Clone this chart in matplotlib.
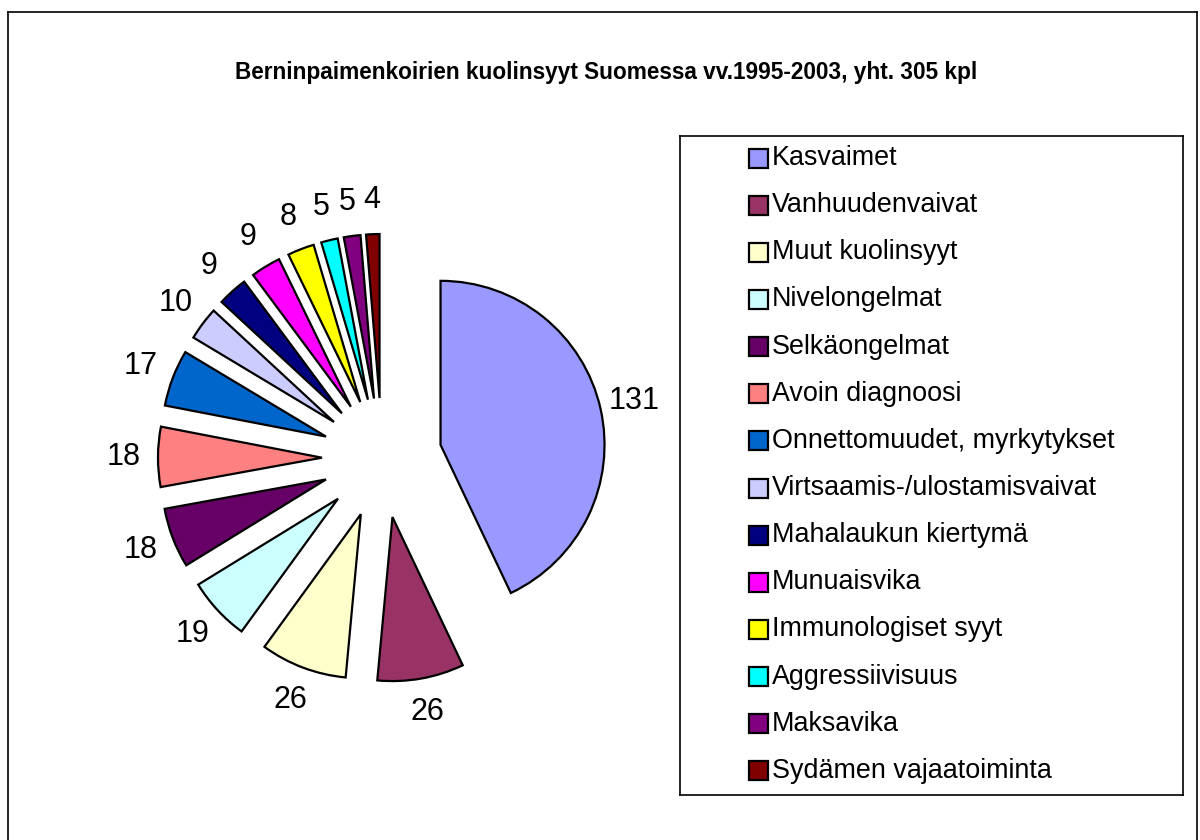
import matplotlib
matplotlib.use("Agg")
import matplotlib.pyplot as plt
from matplotlib.patches import Rectangle
from matplotlib.lines import Line2D

plt.rcParams['font.family'] = ['Liberation Sans', 'DejaVu Sans']

title = "Berninpaimenkoirien kuolinsyyt Suomessa vv.1995-2003, yht. 305 kpl"
causes = ["Kasvaimet", "Vanhuudenvaivat", "Muut kuolinsyyt", "Nivelongelmat",
          "Selkäongelmat", "Avoin diagnoosi", "Onnettomuudet, myrkytykset",
          "Virtsaamis-/ulostamisvaivat", "Mahalaukun kiertymä", "Munuaisvika",
          "Immunologiset syyt", "Aggressiivisuus", "Maksavika", "Sydämen vajaatoiminta"]
counts = [131, 26, 26, 19, 18, 18, 17, 10, 9, 9, 8, 5, 5, 4]
colors = ["#9999FF", "#993366", "#FFFFCC", "#CCFFFF", "#660066", "#FF8080", "#0066CC",
          "#CCCCFF", "#000080", "#FF00FF", "#FFFF00", "#00FFFF", "#800080", "#800000"]

W, H = 1200, 840
fig = plt.figure(figsize=(12, 8.4), dpi=100)

# outer chart frame (right/bottom run off the picture)
fig.add_artist(Line2D([8 / W, 8 / W], [0, 1 - 12 / H], color="black", lw=1.2))
fig.add_artist(Line2D([8 / W, 1197 / W], [1 - 12 / H, 1 - 12 / H], color="black", lw=1.2))
fig.add_artist(Line2D([1197 / W, 1197 / W], [0, 1 - 12 / H], color="black", lw=1.2))

fig.text(606 / W, 1 - 72 / H, title, ha="center", va="center",
         fontsize=16.3, fontweight="bold")

# pie in pixel-like units
ax = fig.add_axes([0, 0, 1, 1])
radius = 164
wedges, texts = ax.pie(counts, colors=colors, labels=[str(c) for c in counts],
                       startangle=90, counterclock=False,
                       explode=[60] * len(counts),
                       center=(382, H - 458), radius=radius,
                       labeldistance=1.21,
                       wedgeprops=dict(edgecolor="black", linewidth=1.6),
                       textprops=dict(fontsize=22))
for t in texts:
    t.set_ha("center")
    t.set_va("center")
ax.set_xlim(0, W)
ax.set_ylim(0, H)
ax.axis("off")

# legend box
lx0, ly0, lw, lh = 680, 136, 503, 659
lax = fig.add_axes([lx0 / W, 1 - (ly0 + lh) / H, lw / W, lh / H])
lax.set_xlim(0, lw)
lax.set_ylim(lh, 0)
lax.set_xticks([])
lax.set_yticks([])
for s in lax.spines.values():
    s.set_linewidth(1.2)
    s.set_color("black")
for i, (name, col) in enumerate(zip(causes, colors)):
    yc = 22 + 47.15 * i
    lax.add_patch(Rectangle((69, yc - 9.5), 19, 19, facecolor=col,
                            edgecolor="black", linewidth=1.6))
    lax.text(92, yc, name, ha="left", va="center", fontsize=19.4)

fig.savefig("out.png", dpi=100)
